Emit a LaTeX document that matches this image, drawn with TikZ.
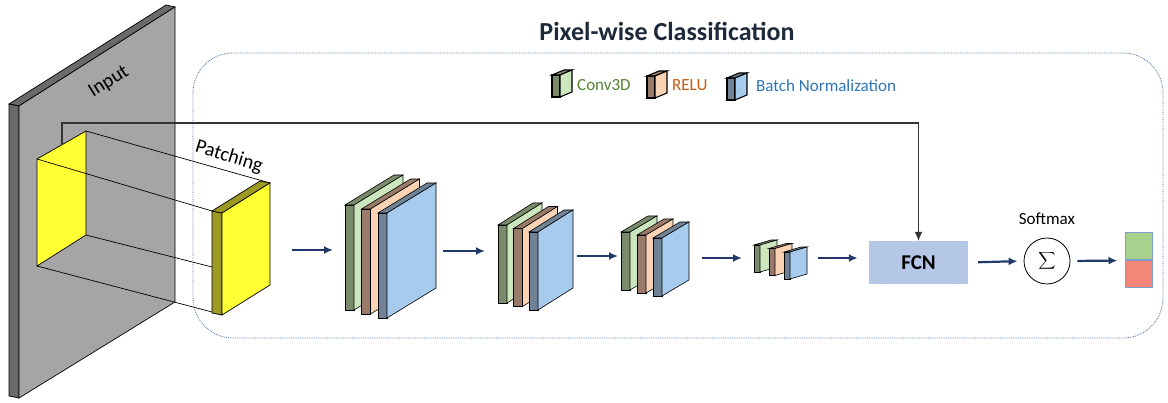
\documentclass[tikz,border=0pt]{standalone}
\usepackage{fontspec}
\setmainfont{Carlito}
\usetikzlibrary{positioning,arrows.meta}
\definecolor{titlecol}{HTML}{1E2A3B}
\definecolor{framecol}{HTML}{4A6FA5}
\definecolor{panelgray}{HTML}{A5A5A5}
\definecolor{paneldark}{HTML}{6A6A6A}
\definecolor{patchyellow}{HTML}{FFFF33}
\definecolor{patcholive}{HTML}{9C9A22}
\definecolor{convdark}{HTML}{7A8B6C}
\definecolor{convlight}{HTML}{CCE6BE}
\definecolor{reludark}{HTML}{9A7B69}
\definecolor{relulight}{HTML}{FAD3B4}
\definecolor{bndark}{HTML}{708396}
\definecolor{bnlight}{HTML}{A7CBEC}
\definecolor{convtext}{HTML}{548235}
\definecolor{relutext}{HTML}{C55A11}
\definecolor{bntext}{HTML}{2E75B6}
\definecolor{arrowblue}{HTML}{223A6A}
\definecolor{fcnfill}{HTML}{B4C7E7}
\definecolor{outgreen}{HTML}{A9D18E}
\definecolor{outred}{HTML}{F4877A}
\definecolor{outborder}{HTML}{7F9CCF}
% one slab: x, top y, width, height, slant, thickness, side colour, front colour
\newcommand{\layerslab}[8]{%
  \filldraw[fill=#7] (#1-#6,#2) -- (#1,#2) -- (#1,#2+#4) -- (#1-#6,#2+#4) -- cycle;
  \filldraw[fill=#7] (#1-#6,#2) -- (#1+#3-#6,#2-#5) -- (#1+#3,#2-#5) -- (#1,#2) -- cycle;
  \filldraw[fill=#8] (#1,#2) -- (#1+#3,#2-#5) -- (#1+#3,#2+#4-#5) -- (#1,#2+#4) -- cycle;}
% conv + relu + batch norm
\newcommand{\layerblock}[8]{%
  \layerslab{#1}{#2}{#3}{#4}{#5}{#6}{convdark}{convlight}
  \layerslab{#1+#7}{#2+#8}{#3}{#4}{#5}{#6}{reludark}{relulight}
  \layerslab{#1+2*#7}{#2+2*#8}{#3}{#4}{#5}{#6}{bndark}{bnlight}}
\begin{document}
\begin{tikzpicture}[x=1pt,y=-1pt,>={Latex[length=9pt,width=8pt]},
    outline/.style={draw=black,line width=0.7pt},
    flow/.style={->,draw=arrowblue,line width=2.2pt},
    skip/.style={->,draw=black!80,line width=1.2pt},
    lbl/.style={font=\fontsize{17}{20}\selectfont,inner sep=0pt},
    fcnbox/.style={fill=fcnfill,minimum width=99pt,minimum height=43pt,font=\bfseries\fontsize{21}{24}\selectfont},
    outcell/.style={draw=outborder,line width=1pt,minimum width=27pt,minimum height=27pt,inner sep=0pt}]
\useasboundingbox (0,0) rectangle (1168,403);
% frame and title
\draw[framecol,densely dotted,line width=0.8pt,rounded corners=40pt] (193,53) rectangle (1163,338);
\node[font=\bfseries\fontsize{26}{30}\selectfont,text=titlecol] (title) at (667,31) {Pixel-wise Classification};
% input panel
\filldraw[outline,fill=paneldark] (9,104) -- (166,5) -- (175,7) -- (19,106) -- cycle;
\filldraw[outline,fill=paneldark] (9,104) -- (19,106) -- (19,398) -- (9,396) -- cycle;
\filldraw[outline,fill=panelgray] (19,106) -- (175,7) -- (175,302) -- (19,398) -- cycle;
\node[lbl,rotate=32,font=\fontsize{20}{24}\selectfont] (input) at (109,82) {Input};
\filldraw[outline,fill=patchyellow] (37,159) -- (86,131) -- (86,235) -- (37,266) -- cycle;
\draw[outline] (37,159) -- (212,211) (86,131) -- (270,183) (86,235) -- (212,267) (37,266) -- (212,312);
% patch
\filldraw[outline,fill=patcholive] (212,211) -- (222,213) -- (222,315) -- (212,313) -- cycle;
\filldraw[outline,fill=patcholive] (212,211) -- (260,181) -- (270,183) -- (222,213) -- cycle;
\filldraw[outline,fill=patchyellow] (222,213) -- (270,183) -- (270,285) -- (222,315) -- cycle;
\node[lbl,rotate=-17,font=\fontsize{20}{24}\selectfont] (patching) at (229,157) {Patching};
% legend
\begin{scope}[line width=1.1pt]
\layerslab{560}{75}{12}{22}{5}{8}{convdark}{convlight}
\layerslab{655}{76}{12}{22}{5}{8}{reludark}{relulight}
\layerslab{735}{78}{12}{22}{5}{8}{bndark}{bnlight}
\end{scope}
\node[lbl,anchor=west,text=convtext] (lconv) at (577,85) {Conv3D};
\node[lbl,anchor=west,text=relutext] (lrelu) at (672,85) {RELU};
\node[lbl,anchor=west,text=bntext] (lbn) at (756,86) {Batch Normalization};
% layers
\begin{scope}[line width=0.6pt]
\layerblock{354}{205}{49}{105}{30}{9}{16.5}{4}
\layerblock{507}{225}{35}{78}{22}{9}{15.5}{3.5}
\layerblock{630}{232}{27}{58}{16}{9}{16}{3}
\layerblock{760}{245}{17}{27}{5}{6}{15}{3.5}
\end{scope}
\coordinate (p0) at (292,250);
\coordinate (b1in) at (333,250);
\coordinate (b1out) at (443,251);
\coordinate (b2in) at (485,251);
\coordinate (b2out) at (577,256);
\coordinate (b3in) at (618,256);
\coordinate (b3out) at (702,258);
\coordinate (b4in) at (742,258);
\coordinate (b4out) at (818,258);
% head
\node[fcnbox] (fcn) at (918.5,262.5) {FCN};
\node[draw,circle,line width=0.8pt,minimum size=46pt,inner sep=0pt] (sum) at (1047,261) {\scalebox{1.2}{$\displaystyle\sum$}};
\node[lbl,above=13pt of sum] (softmax) {Softmax};
\node[outcell,fill=outgreen] (outg) at (1138.5,246.5) {};
\node[outcell,fill=outred,below=0pt of outg] (outr) {};
% connectors
\draw[flow] (p0) -- (b1in);
\draw[flow] (b1out) -- (b2in);
\draw[flow] (b2out) -- (b3in);
\draw[flow] (b3out) -- (b4in);
\draw[flow,shorten >=11pt] (b4out) -- (b4out -| fcn.west);
\draw[flow,shorten <=10pt,shorten >=6pt] (fcn.east) -- (sum.west);
\draw[flow,shorten <=7pt,shorten >=7pt] (sum.east) -- (outg.south west);
\coordinate (skipstart) at (62,145);
\draw[skip] (skipstart) -- (62,123) -| (fcn.north);
\end{tikzpicture}
\end{document}
